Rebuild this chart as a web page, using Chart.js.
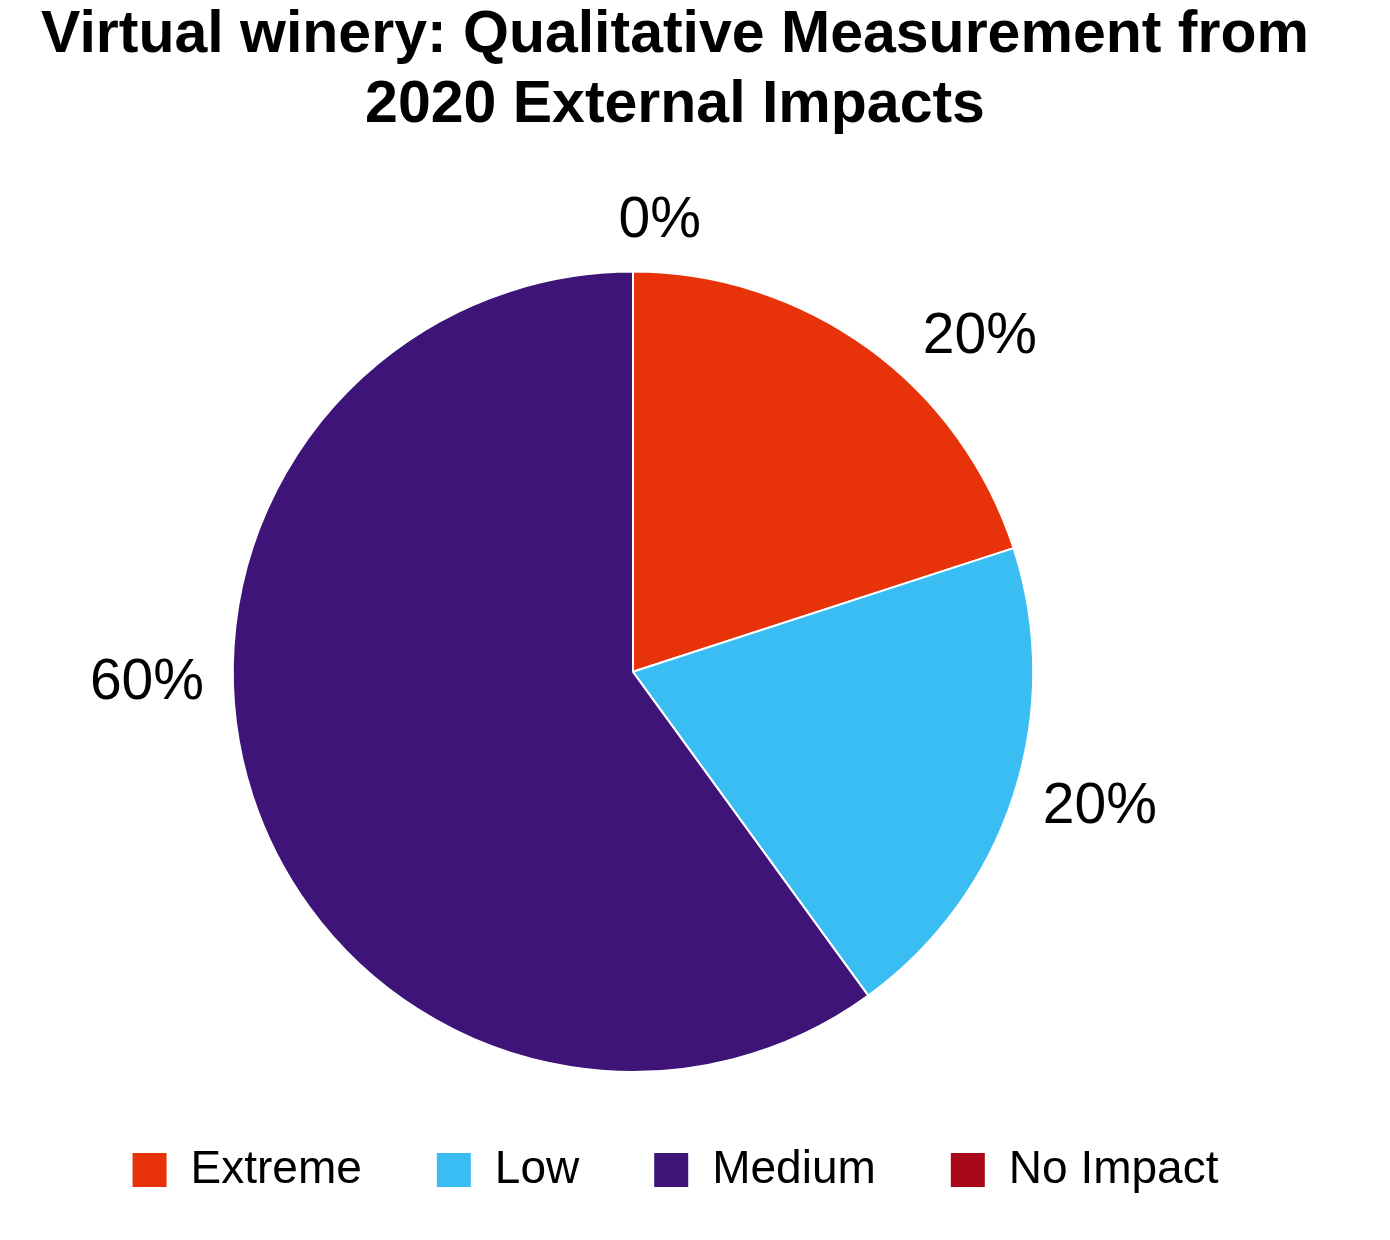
<!DOCTYPE html>
<html>
<head>
<meta charset="utf-8">
<script src="https://cdn.jsdelivr.net/npm/chart.js@4.4.1/dist/chart.umd.min.js"></script>
<style>
  html, body { margin: 0; padding: 0; background: #ffffff; }
  #wrap { width: 1390px; height: 1240px; }
</style>
</head>
<body>
<div id="wrap"><canvas id="impactPie" width="1390" height="1240"></canvas></div>
<script>
// data
const categories = ["Extreme", "Low", "Medium", "No Impact"];
const shares = [20, 20, 60, 0];          // percent of responses
const sliceColors = ["#e8330a", "#39bdf2", "#3e1479", "#a8081a"];
const titleLines = ["Virtual winery: Qualitative Measurement from", "2020 External Impacts"];

// Percent labels outside the pie, placed from each arc's own geometry.
// angleNudge (deg) and gap (px beyond the rim) only tweak the placement.
const pieLabels = {
  id: "pieLabels",
  afterDraw(chart, args, opts) {
    const meta = chart.getDatasetMeta(0);
    const ctx = chart.ctx;
    ctx.save();
    ctx.font = opts.font;
    ctx.fillStyle = opts.color;
    ctx.textAlign = "center";
    ctx.textBaseline = "middle";
    meta.data.forEach((arc, i) => {
      const p = arc.getProps(["x", "y", "startAngle", "endAngle", "outerRadius"], true);
      const mid = (p.startAngle + p.endAngle) / 2 + (opts.angleNudge[i] || 0) * Math.PI / 180;
      const r = p.outerRadius + (opts.gap[i] || 40);
      ctx.fillText(shares[i] + "%", p.x + r * Math.cos(mid), p.y + r * Math.sin(mid));
    });
    ctx.restore();
  }
};

// The pie sits a bit left of the title/legend centre in the reference.
const pieShift = {
  id: "pieShift",
  afterLayout(chart, args, opts) {
    const a = chart.chartArea;
    a.left += opts.dx;
    a.right += opts.dx;
  }
};

new Chart(document.getElementById("impactPie").getContext("2d"), {
  type: "pie",
  data: {
    labels: categories,
    datasets: [
      {
        data: shares,
        backgroundColor: sliceColors,
        borderColor: "#ffffff",
        borderWidth: 2
      }
    ]
  },
  options: {
    responsive: false,
    animation: false,
    events: [],
    layout: { padding: { left: 0, right: 40, top: 0, bottom: 37 } },
    plugins: {
      title: {
        display: true,
        text: titleLines,
        color: "#000000",
        font: { family: "'Liberation Sans', Arial, sans-serif", size: 59, weight: "bold", lineHeight: 1.2 },
        padding: { top: 0, bottom: 129 }
      },
      legend: {
        position: "bottom",
        labels: {
          color: "#000000",
          boxWidth: 36,
          boxHeight: 36,
          padding: 74,
          font: { family: "'Liberation Sans', Arial, sans-serif", size: 46 }
        }
      },
      tooltip: { enabled: false },
      pieLabels: {
        font: "57px 'Liberation Sans', Arial, sans-serif",
        color: "#000000",
        angleNudge: [10, -1.8, 16.6, 3.4],
        gap: [82, 86, 86, 51]
      },
      pieShift: { dx: -42 }
    }
  },
  plugins: [pieShift, pieLabels]
});
</script>
</body>
</html>
